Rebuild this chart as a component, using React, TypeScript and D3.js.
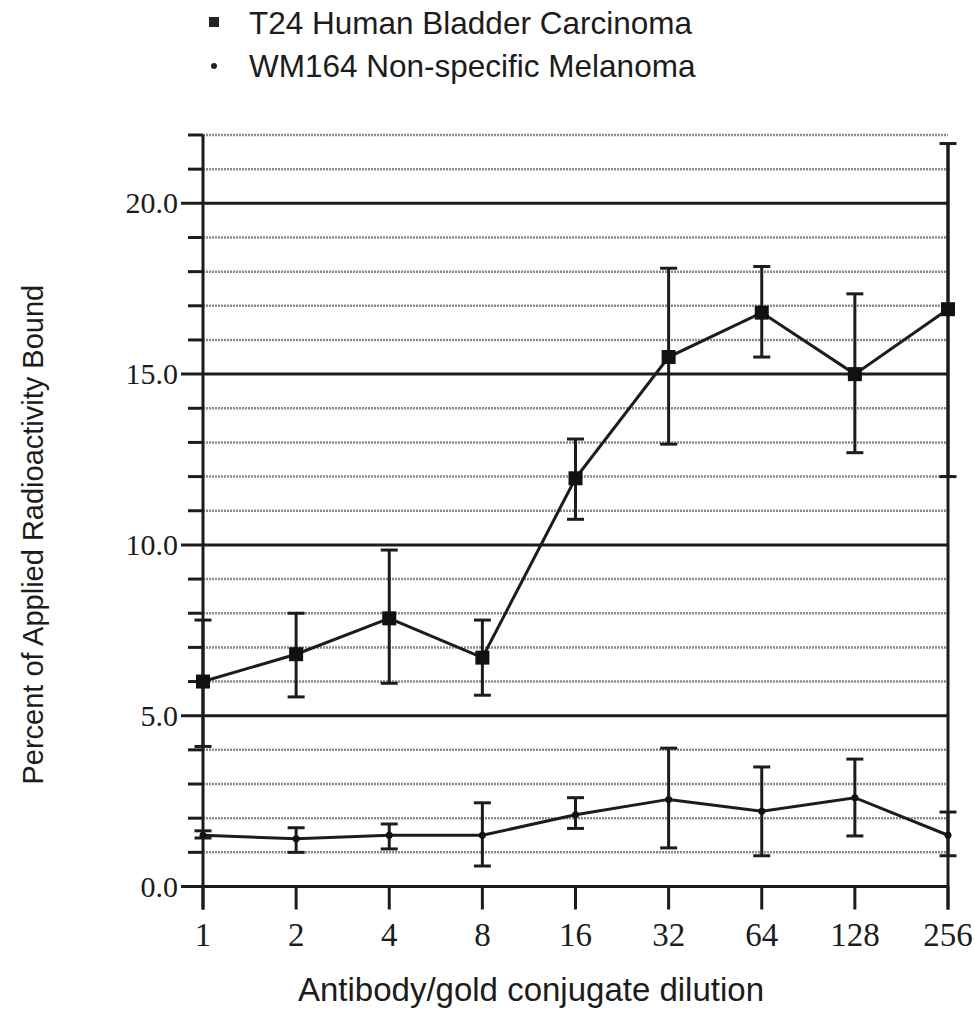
import React, { useEffect, useRef } from 'react';
import * as d3 from 'd3';

const dilutions = ['1', '2', '4', '8', '16', '32', '64', '128', '256'];

const t24Mean = [6.0, 6.8, 7.85, 6.7, 11.95, 15.5, 16.8, 15.0, 16.9];
const t24Low = [4.1, 5.55, 5.95, 5.6, 10.75, 12.95, 15.5, 12.7, 12.0];
const t24High = [7.8, 8.0, 9.85, 7.8, 13.1, 18.1, 18.15, 17.35, 21.75];

const wmMean = [1.5, 1.4, 1.5, 1.5, 2.1, 2.55, 2.2, 2.6, 1.5];
const wmLow = [1.42, 1.0, 1.1, 0.6, 1.7, 1.13, 0.9, 1.48, 0.9];
const wmHigh = [1.63, 1.72, 1.83, 2.45, 2.6, 4.05, 3.5, 3.73, 2.18];

const majorTicks = [0, 5, 10, 15, 20];
const minorTicks = d3.range(0, 23).filter((v) => v % 5 !== 0);

const legendLabels = ['T24 Human Bladder Carcinoma', 'WM164 Non-specific Melanoma'];

const INK = '#1c1c1c';
const SANS = '"Liberation Sans", Arial, sans-serif';
const SERIF = '"Liberation Serif", "Times New Roman", serif';

const App = () => {
    const ref = useRef<SVGSVGElement | null>(null);

    useEffect(() => {
        const svg = d3.select(ref.current);
        svg.selectAll('*').remove();

        const x = d3.scalePoint<string>().domain(dilutions).range([203, 948]);
        const y = d3.scaleLinear().domain([0, 22]).range([886.5, 135]);
        const x0 = x.range()[0];
        const x1 = x.range()[1];

        // minor grid (grey, dithered)
        svg.append('g')
            .selectAll('line')
            .data(minorTicks)
            .enter()
            .append('line')
            .attr('x1', x0)
            .attr('x2', x1)
            .attr('y1', (d) => y(d))
            .attr('y2', (d) => y(d))
            .attr('stroke', '#8a8a8a')
            .attr('stroke-width', 2.5)
            .attr('stroke-dasharray', '2 1');

        // minor ticks
        svg.append('g')
            .selectAll('line')
            .data(minorTicks)
            .enter()
            .append('line')
            .attr('x1', x0 - 15)
            .attr('x2', x0)
            .attr('y1', (d) => y(d))
            .attr('y2', (d) => y(d))
            .attr('stroke', INK)
            .attr('stroke-width', 3);

        // major grid lines
        svg.append('g')
            .selectAll('line')
            .data(majorTicks)
            .enter()
            .append('line')
            .attr('x1', x0 - 22)
            .attr('x2', x1)
            .attr('y1', (d) => y(d))
            .attr('y2', (d) => y(d))
            .attr('stroke', INK)
            .attr('stroke-width', 3);

        // y tick labels
        svg.append('g')
            .selectAll('text')
            .data(majorTicks)
            .enter()
            .append('text')
            .attr('x', x0 - 25)
            .attr('y', (d) => y(d) + 10)
            .attr('text-anchor', 'end')
            .attr('font-family', SERIF)
            .attr('font-size', 30)
            .attr('fill', INK)
            .text((d) => d3.format('.1f')(d));

        // x ticks
        svg.append('g')
            .selectAll('line')
            .data(dilutions)
            .enter()
            .append('line')
            .attr('x1', (d) => x(d)!)
            .attr('x2', (d) => x(d)!)
            .attr('y1', y(0))
            .attr('y2', y(0) + 23)
            .attr('stroke', INK)
            .attr('stroke-width', 3);

        svg.append('g')
            .selectAll('text')
            .data(dilutions)
            .enter()
            .append('text')
            .attr('x', (d) => x(d)!)
            .attr('y', 946)
            .attr('text-anchor', 'middle')
            .attr('font-family', SERIF)
            .attr('font-size', 33)
            .attr('fill', INK)
            .text((d) => d);

        // left axis
        svg.append('line')
            .attr('x1', x0)
            .attr('x2', x0)
            .attr('y1', y(22))
            .attr('y2', y(0) + 23)
            .attr('stroke', INK)
            .attr('stroke-width', 3);

        // right edge line
        svg.append('line')
            .attr('x1', x1)
            .attr('x2', x1)
            .attr('y1', y(t24High[t24High.length - 1]))
            .attr('y2', y(0) + 23)
            .attr('stroke', INK)
            .attr('stroke-width', 3);

        const drawSeries = (
            mean: number[],
            low: number[],
            high: number[],
            marker: 'square' | 'dot'
        ) => {
            const g = svg.append('g');
            const pts = dilutions.map((d, i) => ({ d, m: mean[i], lo: low[i], hi: high[i] }));

            g.selectAll('line.err')
                .data(pts)
                .enter()
                .append('line')
                .attr('x1', (p) => x(p.d)!)
                .attr('x2', (p) => x(p.d)!)
                .attr('y1', (p) => y(p.lo))
                .attr('y2', (p) => y(p.hi))
                .attr('stroke', INK)
                .attr('stroke-width', 3);

            ['lo', 'hi'].forEach((k) => {
                g.selectAll(`line.cap-${k}`)
                    .data(pts)
                    .enter()
                    .append('line')
                    .attr('x1', (p) => x(p.d)! - 8.5)
                    .attr('x2', (p) => x(p.d)! + 8.5)
                    .attr('y1', (p) => y(k === 'lo' ? p.lo : p.hi))
                    .attr('y2', (p) => y(k === 'lo' ? p.lo : p.hi))
                    .attr('stroke', INK)
                    .attr('stroke-width', 3);
            });

            const line = d3
                .line<{ d: string; m: number }>()
                .x((p) => x(p.d)!)
                .y((p) => y(p.m));

            g.append('path')
                .datum(pts)
                .attr('d', line)
                .attr('fill', 'none')
                .attr('stroke', INK)
                .attr('stroke-width', 3);

            if (marker === 'square') {
                g.selectAll('rect')
                    .data(pts)
                    .enter()
                    .append('rect')
                    .attr('x', (p) => x(p.d)! - 7)
                    .attr('y', (p) => y(p.m) - 7)
                    .attr('width', 14)
                    .attr('height', 14)
                    .attr('fill', '#111');
            } else {
                g.selectAll('circle')
                    .data(pts)
                    .enter()
                    .append('circle')
                    .attr('cx', (p) => x(p.d)!)
                    .attr('cy', (p) => y(p.m))
                    .attr('r', 3.5)
                    .attr('fill', '#111');
            }
        };

        drawSeries(wmMean, wmLow, wmHigh, 'dot');
        drawSeries(t24Mean, t24Low, t24High, 'square');

        // legend
        const legend = svg.append('g');
        legend.append('rect').attr('x', 209).attr('y', 17).attr('width', 10).attr('height', 10).attr('fill', '#222');
        legend.append('circle').attr('cx', 214).attr('cy', 66).attr('r', 3).attr('fill', '#222');
        legend
            .selectAll('text')
            .data(legendLabels)
            .enter()
            .append('text')
            .attr('x', 249)
            .attr('y', (d, i) => 34 + i * 43)
            .attr('font-family', SANS)
            .attr('font-size', 31.5)
            .attr('fill', INK)
            .text((d) => d);

        // axis titles
        svg.append('text')
            .attr('x', 531)
            .attr('y', 1001)
            .attr('text-anchor', 'middle')
            .attr('font-family', SANS)
            .attr('font-size', 33)
            .attr('fill', INK)
            .text('Antibody/gold conjugate dilution');

        svg.append('text')
            .attr('transform', `translate(43, ${y(10.3)}) rotate(-90)`)
            .attr('text-anchor', 'middle')
            .attr('font-family', SANS)
            .attr('font-size', 29)
            .attr('fill', INK)
            .text('Percent of Applied Radioactivity Bound');
    }, []);

    return (
        <svg
            ref={ref}
            width={975}
            height={1012}
            style={{ position: 'absolute', left: 0, top: 0, background: '#fff' }}
        />
    );
};

export default App;
